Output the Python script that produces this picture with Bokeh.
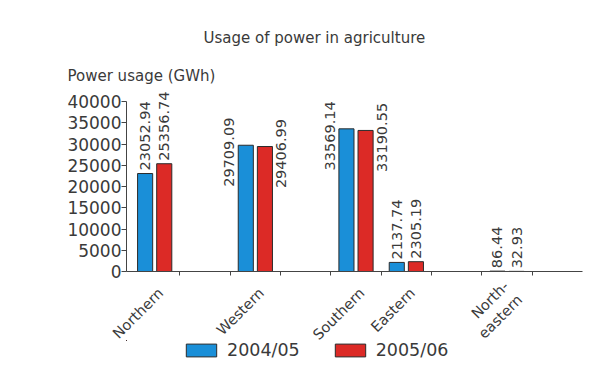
from math import pi
from bokeh.plotting import figure
from bokeh.layouts import column
from bokeh.models import (ColumnDataSource, Range1d, LinearAxis, FixedTicker, Title, Legend, LegendItem)
from bokeh.transform import dodge
from bokeh.core.properties import value
from bokeh.embed import file_html
from bokeh.resources import INLINE

# ---- data ----
regions = ["Northern", "Western", "Southern", "Eastern", "North-eastern"]
usage_2004_05 = [23052.94, 29709.09, 33569.14, 2137.74, 86.44]
usage_2005_06 = [25356.74, 29406.99, 33190.55, 2305.19, 32.93]
series_names = ["2004/05", "2005/06"]
y_ticks = [0, 5000, 10000, 15000, 20000, 25000, 30000, 35000, 40000]
title_text = "Usage of power in agriculture"
y_label = "Power usage (GWh)"

# ---- layout of slots on the category axis (spacer slots between groups) ----
slots = ["Northern", "", "Western", "", "Southern", "Eastern", "", "North-eastern", ""]
side_label_regions = {"Western", "Southern"}
pos = [slots.index(r) + 0.5 for r in regions]
label_pos = [x + 0.12 for x in pos]

FONT = "DejaVu Sans"
TXT = "#3a3a3a"
BLUE = "#1a8fd8"
RED = "#dc2a26"
EDGE = "#2b2b2b"

p = figure(width=609, height=366, output_backend="svg", toolbar_location=None,
           x_range=Range1d(-0.06, len(slots)), y_range=Range1d(0, 44000),
           x_axis_location=None, y_axis_location=None,
           title=None, min_border_left=126, min_border_right=27,
           min_border_top=84, min_border_bottom=95)
p.outline_line_color = None
p.grid.visible = False
p.background_fill_color = "white"
p.border_fill_color = "white"

src = ColumnDataSource(dict(region=regions, x=pos, a=usage_2004_05, b=usage_2005_06))

ra = p.vbar(x=dodge("x", -0.19), top="a", width=0.3, source=src,
            fill_color=BLUE, line_color=EDGE, line_width=1)
rb = p.vbar(x=dodge("x", 0.19), top="b", width=0.3, source=src,
            fill_color=RED, line_color=EDGE, line_width=1)

# value labels
def sub(idx):
    return ColumnDataSource(dict(x=[pos[i] for i in idx],
                                 a=[usage_2004_05[i] for i in idx],
                                 b=[usage_2005_06[i] for i in idx],
                                 ta=[f"{usage_2004_05[i]:.2f}" for i in idx],
                                 tb=[f"{usage_2005_06[i]:.2f}" for i in idx]))

top_idx = [i for i, r in enumerate(regions) if r not in side_label_regions]
side_idx = [i for i, r in enumerate(regions) if r in side_label_regions]
s_top = sub(top_idx)
s_side = sub(side_idx)

lab_kw = dict(angle=pi / 2, text_font=value(FONT), text_font_size="14.5px", text_color=TXT)
p.text(x=dodge("x", -0.19), y="a", text="ta", source=s_top,
       text_align="left", text_baseline="middle", y_offset=-3, **lab_kw)
p.text(x=dodge("x", 0.19), y="b", text="tb", source=s_top,
       text_align="left", text_baseline="middle", y_offset=-3, **lab_kw)
p.text(x=dodge("x", -0.34), y="a", text="ta", source=s_side,
       text_align="center", text_baseline="bottom", x_offset=-4, y_offset=7, **lab_kw)
p.text(x=dodge("x", 0.34), y="b", text="tb", source=s_side,
       text_align="center", text_baseline="top", x_offset=4, y_offset=7, **lab_kw)

# y axis
yax = LinearAxis(ticker=FixedTicker(ticks=y_ticks), bounds=(0, 40000))
yax.axis_line_color = "#444444"
yax.major_tick_line_color = "#444444"
yax.major_tick_in = 0
yax.major_tick_out = 5
yax.minor_tick_line_color = None
yax.major_label_text_font = FONT
yax.major_label_text_font_size = "17px"
yax.major_label_text_color = TXT
yax.major_label_standoff = 0
p.add_layout(yax, "left")

# x axis: line + slot-boundary ticks (no labels)
xline = LinearAxis(ticker=FixedTicker(ticks=list(range(1, len(slots)))))
xline.axis_line_color = "#444444"
xline.major_tick_line_color = "#444444"
xline.major_tick_in = 0
xline.major_tick_out = 4
xline.minor_tick_line_color = None
xline.major_label_text_font_size = "1px"
xline.major_label_text_color = None
xline.major_label_standoff = 0
p.add_layout(xline, "below")

# x axis: category labels near slot centres
xcat = LinearAxis(ticker=FixedTicker(ticks=label_pos))
xcat.axis_line_color = None
xcat.major_tick_line_color = None
xcat.minor_tick_line_color = None
xcat.major_label_orientation = pi / 4
xcat.major_label_text_font = FONT
xcat.major_label_text_font_size = "14.5px"
xcat.major_label_text_color = TXT
xcat.major_label_standoff = 9
xcat.major_label_overrides = {x: ("North-\neastern" if r == "North-eastern" else r)
                              for x, r in zip(label_pos, regions)}
p.add_layout(xcat, "below")

# titles
t_y = Title(text=y_label, align="left", offset=-59, text_font=FONT, text_font_size="15px",
            text_font_style="normal", text_color=TXT, standoff=0)
p.add_layout(t_y, "above")
t_main = Title(text=title_text, align="left", offset=77, text_font=FONT, text_font_size="15px",
               text_font_style="normal", text_color=TXT, standoff=36)
p.add_layout(t_main, "above")

# legend strip (transparent figure overlapping the chart's bottom margin;
# its bars lie outside its visible range so only the legend shows)
lg = figure(width=609, height=34, output_backend="svg", toolbar_location=None,
            x_range=Range1d(100, 101), y_range=Range1d(-2, -1), title=None,
            x_axis_location=None, y_axis_location=None,
            min_border_left=0, min_border_right=0, min_border_top=0, min_border_bottom=0,
            margin=(-26, 0, 0, 0))
lg.outline_line_color = None
lg.grid.visible = False
lg.background_fill_color = None
lg.border_fill_color = None
la = lg.vbar(x=dodge("x", -0.19), top="a", width=0.3, source=src,
             fill_color=BLUE, line_color=EDGE, line_width=1)
lb = lg.vbar(x=dodge("x", 0.19), top="b", width=0.3, source=src,
             fill_color=RED, line_color=EDGE, line_width=1)
legend = Legend(items=[LegendItem(label=series_names[0], renderers=[la]),
                       LegendItem(label=series_names[1], renderers=[lb])],
                orientation="horizontal", location=(56, 14),
                glyph_width=38, glyph_height=16, label_standoff=7, spacing=31,
                padding=0, margin=0, border_line_color=None, background_fill_alpha=0,
                label_text_font=FONT, label_text_font_size="17.5px", label_text_color=TXT)
lg.add_layout(legend, "center")

layout = column(p, lg, spacing=0)
open("out.html", "w").write(file_html(layout, INLINE))
